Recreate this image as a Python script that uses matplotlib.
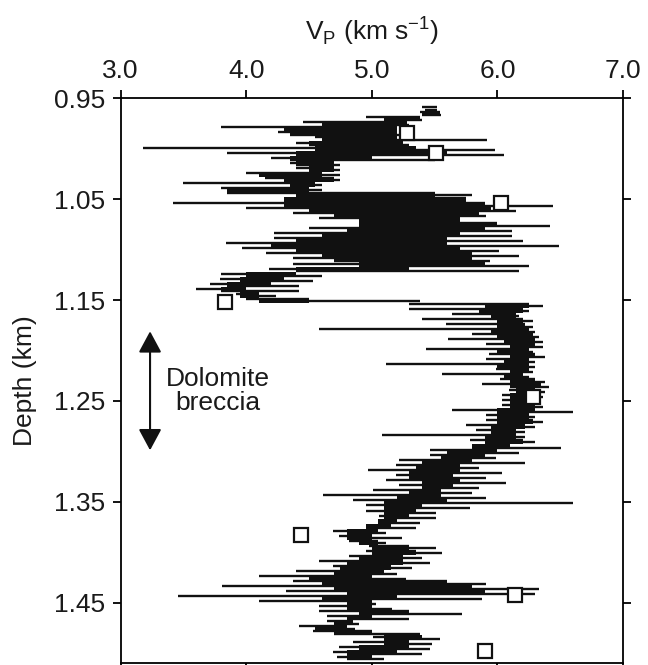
import numpy as np
import matplotlib
matplotlib.use("Agg")
import matplotlib.pyplot as plt

plt.rcParams["font.family"] = ["Liberation Sans", "DejaVu Sans"]
plt.rcParams["mathtext.fontset"] = "custom"
plt.rcParams["mathtext.rm"] = "Liberation Sans"

# sonic log every 5 m
depth_rows = np.round(np.arange(0.960, 1.5051, 0.005), 3)

# extreme readings in each step (the long spikes)
vp_low = [5.40, 5.38, 4.95, 4.45, 3.80, 4.25, 4.55, 4.40, 3.18, 3.85,
          4.20, 4.35, 4.40, 4.00, 4.15, 3.50, 3.80, 3.85, 4.40, 3.42,
          4.00, 4.37, 4.58, 4.90, 4.50, 4.22, 4.22, 3.84, 3.97, 4.16,
          4.37, 4.37, 4.18, 3.80, 3.79, 3.71, 3.60, 3.92, 4.00, 5.30,
          5.30, 5.64, 5.40, 5.59, 4.58, 5.80, 5.61, 5.91, 5.43, 5.93,
          5.91, 5.11, 5.99, 5.56, 6.02, 5.88, 6.09, 6.04, 6.04, 6.04,
          5.64, 5.91, 5.91, 5.75, 5.83, 5.08, 5.78, 5.93, 5.46, 5.46,
          5.22, 5.19, 4.97, 5.19, 5.11, 5.22, 5.01, 4.61, 4.85, 4.95,
          4.95, 5.06, 5.06, 4.95, 4.69, 4.74, 4.82, 4.98, 4.95, 4.82,
          4.58, 4.69, 4.40, 4.10, 4.37, 3.81, 4.32, 3.46, 4.10, 4.58,
          4.58, 4.64, 4.64, 4.42, 4.53, 5.01, 4.85, 4.74, 4.69, 4.72]
vp_high = [5.52, 5.55, 5.40, 5.30, 5.20, 5.25, 5.92, 5.30, 5.98, 6.05,
           5.50, 4.75, 4.75, 4.75, 4.75, 4.60, 4.60, 5.80, 5.75, 6.44,
           6.15, 5.91, 5.64, 6.42, 6.12, 6.12, 6.20, 6.49, 6.01, 6.17,
           5.94, 6.25, 6.17, 4.60, 4.53, 4.42, 4.42, 4.24, 5.38, 6.36,
           6.25, 6.17, 6.28, 6.28, 6.30, 6.33, 6.36, 6.36, 6.28, 6.38,
           6.30, 6.30, 6.28, 6.25, 6.38, 6.41, 6.38, 6.36, 6.33, 6.36,
           6.60, 6.30, 6.36, 6.30, 6.22, 6.22, 6.30, 6.51, 6.17, 5.99,
           6.22, 5.85, 6.04, 5.91, 6.07, 5.85, 5.80, 5.91, 6.60, 5.78,
           5.51, 5.51, 5.38, 5.35, 5.11, 5.24, 5.11, 5.51, 5.56, 5.40,
           5.46, 5.32, 5.20, 5.27, 5.91, 6.33, 6.30, 5.88, 5.03, 5.16,
           5.72, 5.30, 4.90, 4.87, 5.38, 5.54, 5.48, 5.46, 5.40, 5.10]

# dense part of the log in each step (solid black band)
core_lo = [5.42, 5.40, 5.10, 4.60, 4.30, 4.35, 4.60, 4.50, 4.55, 4.40,
           4.35, 4.40, 4.50, 4.10, 4.30, 4.35, 3.85, 4.40, 4.30, 4.30,
           4.50, 4.70, 4.90, 4.90, 4.80, 4.60, 4.40, 4.20, 4.40, 4.60,
           4.70, 4.90, 4.40, 4.00, 3.95, 3.85, 3.80, 3.95, 4.10, 5.90,
           5.85, 5.95, 6.00, 6.00, 5.95, 6.00, 6.05, 6.10, 6.00, 6.10,
           6.05, 6.00, 6.10, 6.05, 6.10, 6.10, 6.15, 6.10, 6.10, 6.10,
           6.00, 6.00, 6.00, 5.95, 5.95, 5.90, 5.90, 5.80, 5.60, 5.55,
           5.40, 5.35, 5.30, 5.30, 5.40, 5.40, 5.30, 5.20, 5.10, 5.10,
           5.10, 5.10, 5.05, 4.95, 4.80, 4.80, 4.90, 5.00, 5.00, 4.90,
           4.80, 4.75, 4.70, 4.50, 4.60, 4.70, 4.80, 4.60, 4.80, 4.80,
           4.90, 4.80, 4.70, 4.55, 4.70, 5.10, 5.10, 4.90, 4.80, 4.80]
core_hi = [5.52, 5.54, 5.38, 5.28, 5.20, 5.20, 5.20, 5.25, 5.35, 5.60,
           5.00, 4.70, 4.70, 4.60, 4.70, 4.55, 4.50, 5.50, 5.75, 5.90,
           5.95, 5.85, 5.70, 6.00, 5.90, 5.70, 5.60, 5.60, 5.70, 5.80,
           5.80, 5.90, 5.30, 4.40, 4.30, 4.20, 4.00, 4.10, 4.50, 6.25,
           6.20, 6.15, 6.20, 6.22, 6.25, 6.28, 6.30, 6.30, 6.25, 6.30,
           6.25, 6.25, 6.25, 6.20, 6.30, 6.35, 6.30, 6.30, 6.28, 6.30,
           6.30, 6.25, 6.28, 6.22, 6.15, 6.15, 6.20, 6.10, 6.00, 5.90,
           5.80, 5.70, 5.70, 5.65, 5.70, 5.65, 5.55, 5.55, 5.60, 5.40,
           5.35, 5.30, 5.20, 5.15, 5.05, 5.00, 5.05, 5.30, 5.35, 5.25,
           5.25, 5.15, 5.10, 5.00, 5.60, 5.80, 5.90, 5.20, 5.00, 5.00,
           5.30, 5.00, 4.85, 4.80, 5.00, 5.40, 5.30, 5.30, 5.20, 5.00]

# core sample measurements (open squares)
sample_vp = [5.28, 5.51, 6.03, 3.83, 6.28, 4.44, 6.14, 5.90]
sample_depth = [0.984, 1.004, 1.054, 1.152, 1.246, 1.383, 1.443, 1.498]

x_ticks = [3.0, 4.0, 5.0, 6.0, 7.0]
y_ticks = [0.95, 1.05, 1.15, 1.25, 1.35, 1.45]

ink = "#111111"
text_col = "#1a1a1a"

fig = plt.figure(figsize=(6.48, 6.65), dpi=100)
ax = fig.add_axes([0.186, 0.003, 0.7755, 0.849])

ax.fill_betweenx(depth_rows, core_lo, core_hi, step="mid", color=ink, lw=0)
ax.hlines(depth_rows - 0.00125, vp_low, core_hi, color=ink, lw=1.7)
ax.hlines(depth_rows + 0.00125, core_lo, vp_high, color=ink, lw=1.7)

ax.plot(sample_vp, sample_depth, ls="none", marker="s", ms=10, mfc="white",
        mec=ink, mew=1.6, zorder=3)

# dolomite breccia interval
ax.annotate("", xy=(3.235, 1.181), xytext=(3.235, 1.299),
            arrowprops=dict(arrowstyle="<|-|>,head_length=0.65,head_width=0.35",
                            mutation_scale=20, lw=1.5, color=ink,
                            shrinkA=0, shrinkB=0))
ax.text(3.776, 1.240, "Dolomite\nbreccia", ha="center", va="center",
        fontsize=19, color=text_col, linespacing=1.0)

ax.set_xlim(3.0, 7.0)
ax.set_ylim(1.51, 0.95)
ax.set_xticks(x_ticks)
ax.set_xticklabels([f"{v:.1f}" for v in x_ticks])
ax.set_yticks(y_ticks)
ax.set_yticklabels([f"{v:.2f}" for v in y_ticks])

ax.xaxis.set_label_position("top")
ax.tick_params(axis="x", top=True, bottom=True, labeltop=True, labelbottom=False)
ax.tick_params(axis="y", left=True, right=True, labelleft=True, labelright=False)
ax.tick_params(direction="out", length=6, width=1.3, labelsize=19,
               labelcolor=text_col, pad=5)

ax.set_xlabel(r"V$_{\mathrm{P}}$ (km s$^{\mathrm{-1}}$)", fontsize=19,
              color=text_col, labelpad=14)
ax.set_ylabel("Depth (km)", fontsize=19, color=text_col, labelpad=12)

for s in ax.spines.values():
    s.set_linewidth(1.3)

fig.savefig("out.png", dpi=100)
